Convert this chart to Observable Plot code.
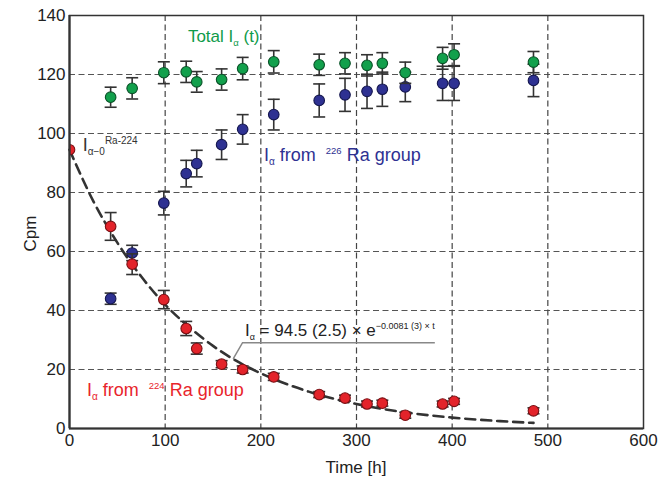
<!DOCTYPE html>
<html><head><meta charset="utf-8">
<script src="https://cdn.jsdelivr.net/npm/d3@7"></script>
<script src="https://cdn.jsdelivr.net/npm/@observablehq/plot@0.6"></script>
<style>body{margin:0;background:#fff}</style>
</head><body><div id="chart"></div>
<script>
// ---- data ----
const times = [43, 65.5, 98.6, 122, 133, 159, 181, 213.5, 261, 288, 311, 327, 351, 390, 402, 485];
const totalY   = [112.3, 115.3, 120.6, 120.9, 117.5, 118.3, 122, 124.3, 123.3, 123.8, 123.1, 123.8, 120.6, 125.5, 126.7, 124.2];
const totalErr = [3.4, 3.6, 3.7, 3.6, 3.5, 3.6, 3.8, 3.8, 3.6, 3.6, 3.6, 3.6, 3.6, 3.7, 3.7, 3.6];
const ra226Y   = [44, 59.5, 76.4, 86.4, 89.8, 96.2, 101.4, 106.4, 111.2, 113.1, 114.3, 115, 115.8, 117, 117, 118];
const ra226Err = [1.9, 2.6, 4, 4.5, 4.5, 5, 5, 5.2, 5.6, 5.6, 5.8, 5.8, 5, 5.8, 5.8, 5.5];
const ra224T   = [0, 43, 65.5, 98.6, 122, 133, 159, 181, 213.5, 261, 288, 311, 327, 351, 390, 402, 485];
const ra224Y   = [94.5, 68.5, 55.7, 43.7, 33.9, 27.1, 21.8, 20, 17.5, 11.5, 10.3, 8.3, 8.6, 4.5, 8.3, 9.2, 6];
const ra224Err = [0, 4.7, 3.5, 3.1, 2.4, 1.9, 1.2, 1.2, 1.2, 1, 1, 1, 1, 1, 1, 1, 1];
// fitted curve
const fitT = [0, 25, 50, 75, 100, 125, 150, 175, 200, 250, 300, 350, 400, 450, 485];
const fitY = [94.5, 77, 63, 51.5, 42, 34.4, 28, 22.8, 18.7, 12.5, 8.3, 5.5, 3.7, 2.5, 1.9];
const xTicks = [0, 100, 200, 300, 400, 500, 600];
const yTicks = [0, 20, 40, 60, 80, 100, 120, 140];
const gridX = [100, 200, 300, 400, 500];
const gridY = [20, 40, 60, 80, 100, 120];

const total = times.map((t, i) => ({t, y: totalY[i], e: totalErr[i]}));
const ra226 = times.map((t, i) => ({t, y: ra226Y[i], e: ra226Err[i]}));
const ra224 = ra224T.map((t, i) => ({t, y: ra224Y[i], e: ra224Err[i]}));
const fit = fitT.map((t, i) => ({t, y: fitY[i]}));

const cap = {draw(ctx, size) { const w = Math.sqrt(size / Math.PI); ctx.moveTo(-w, 0); ctx.lineTo(w, 0); }};
const barColor = "#333";
function group(data, fill, stroke) {
  const d = data.filter(v => v.e > 0);
  const edge = data.filter(v => v.t === 0);
  const inner = data.filter(v => v.t !== 0);
  return [
    Plot.ruleX(d, {x: "t", y1: v => v.y - v.e, y2: v => v.y + v.e, stroke: barColor, strokeWidth: 1.6}),
    Plot.dot(d, {x: "t", y: v => v.y + v.e, symbol: cap, r: 6, stroke: barColor, strokeWidth: 1.6, fill: "none"}),
    Plot.dot(d, {x: "t", y: v => v.y - v.e, symbol: cap, r: 6, stroke: barColor, strokeWidth: 1.6, fill: "none"}),
    Plot.dot(inner, {x: "t", y: "y", r: 5.3, fill, stroke, strokeWidth: 1.1}),
    Plot.dot(edge, {x: "t", y: "y", r: 5.3, fill, stroke, strokeWidth: 1.1, clip: true})
  ];
}

const chart = Plot.plot({
  width: 670, height: 479,
  marginLeft: 69, marginRight: 27, marginTop: 15, marginBottom: 51,
  style: {fontFamily: "'Liberation Sans', Arial, sans-serif", fontSize: "17px", color: "#222", background: "#fff", overflow: "visible"},
  x: {domain: [0, 600], ticks: xTicks, tickSize: 0, tickPadding: 5, label: null, tickFormat: d => String(d)},
  y: {domain: [0, 140], ticks: yTicks, tickSize: 0, tickPadding: 4, label: null, tickFormat: d => String(d)},
  marks: [
    Plot.ruleY(gridY, {stroke: "#555", strokeWidth: 1.2, strokeDasharray: "6,3.5"}),
    Plot.ruleX(gridX, {stroke: "#444", strokeWidth: 1.2, strokeDasharray: "6,3.5"}),
    Plot.line(fit, {x: "t", y: "y", curve: "monotone-x", stroke: "#333", strokeWidth: 2.6, strokeDasharray: "10,6"}),
    ...group(ra226, "#2e3192", "#15174f"),
    ...group(total, "#12a04c", "#0a5228"),
    ...group(ra224, "#e3232a", "#7a1014"),
    Plot.frame({stroke: "#333", strokeWidth: 1.5}),
    Plot.ruleX([0], {stroke: "#333", strokeWidth: 2.2}),
    Plot.ruleY([0], {stroke: "#333", strokeWidth: 2.2})
  ]
});
document.getElementById("chart").appendChild(chart);

// ---- annotations with sub/superscripts ----
const sx = chart.scale("x"), sy = chart.scale("y");
const X = v => sx.apply(v), Y = v => sy.apply(v);
const svg = d3.select(chart);
const FF = "'Liberation Sans', Arial, sans-serif";
function rich(t, y, parts, color, size) {
  const txt = svg.append("text").attr("x", X(t)).attr("y", Y(y)).attr("fill", color)
    .attr("text-anchor", "start").attr("font-size", size).attr("font-family", FF);
  let shift = 0;
  for (const p of parts) {
    const ts = txt.append("tspan").text(p.s);
    const target = p.sub ? 4 : p.sup ? -7 : 0;
    ts.attr("dy", target - shift); shift = target;
    if (p.size) ts.attr("font-size", p.size);
  }
  return txt;
}
rich(124.3, 130.8, [{s: "Total I"}, {s: "α", sub: 1, size: 9.5}, {s: " (t)"}], "#0f9b4a", 17);
rich(14.3, 93.8, [{s: "I"}, {s: "α−0", sub: 1, size: 10}, {s: "Ra-224", sup: 1, size: 10}], "#333", 18);
rich(203.8, 90.4, [{s: "I"}, {s: "α", sub: 1, size: 10}, {s: " from  "}, {s: "226", sup: 1, size: 9.5}, {s: " Ra group"}], "#2e3192", 18);
rich(18.8, 10.7, [{s: "I"}, {s: "α", sub: 1, size: 10}, {s: " from  "}, {s: "224", sup: 1, size: 9.5}, {s: " Ra group"}], "#e8242b", 18);
rich(183.9, 31.1, [{s: "I"}, {s: "α", sub: 1, size: 9}, {s: " = 94.5 (2.5) × e"}, {s: "−0.0081 (3) × t", sup: 1, size: 9}], "#222", 17);

// leader line for formula
const leader = [[171.6, 23.4], [181.4, 28.9], [382.4, 28.9]];
svg.append("path").attr("d", d3.line().x(d => X(d[0])).y(d => Y(d[1]))(leader))
  .attr("fill", "none").attr("stroke", "#888").attr("stroke-width", 1.5);

// axis titles
svg.append("text").attr("x", (X(0) + X(600)) / 2).attr("y", 473).attr("text-anchor", "middle")
  .attr("font-size", 17).attr("font-family", FF).attr("fill", "#222").text("Time [h]");
svg.append("text").attr("transform", `translate(36,${(Y(0) + Y(140)) / 2 + 12}) rotate(-90)`).attr("text-anchor", "middle")
  .attr("font-size", 17).attr("font-family", FF).attr("fill", "#222").text("Cpm");
</script>
</body></html>
